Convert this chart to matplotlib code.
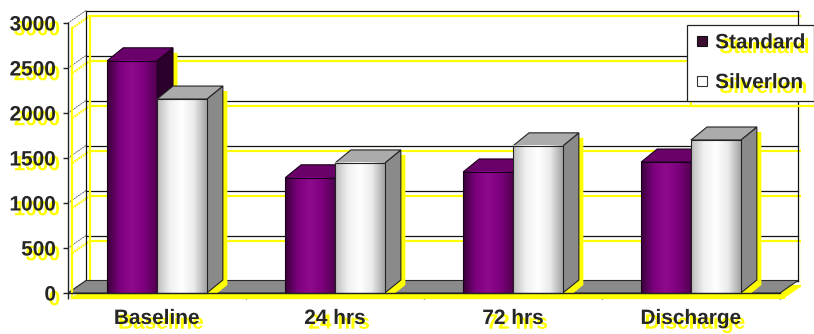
import numpy as np
import matplotlib
matplotlib.use('Agg')
import matplotlib.pyplot as plt
import matplotlib.patheffects as pe
from matplotlib.colors import LinearSegmentedColormap
from matplotlib.lines import Line2D
from matplotlib.patches import Polygon, Rectangle
from matplotlib.transforms import offset_copy

# data
categories = ['Baseline', '24 hrs', '72 hrs', 'Discharge']
series_names = ['Standard', 'Silverlon']
standard = [2580, 1280, 1345, 1455]
silverlon = [2155, 1445, 1635, 1700]
y_ticks = [0, 500, 1000, 1500, 2000, 2500, 3000]

plt.rcParams['font.family'] = ['Liberation Sans', 'DejaVu Sans']
TXT = '#262626'
YEL = '#ffff00'

W, H = 814, 334
fig = plt.figure(figsize=(W / 100, H / 100), dpi=100)

# layout: pixels per category and per value unit
px_x, px_y = 178.0, 0.09
xlim = (-0.5, 3.62)
ylim = (-150, 3200)
front_left, front_bottom = 68, 293  # pixel pos of the floor's front-left corner
ax = fig.add_axes([front_left / W,
                   (H - front_bottom + ylim[0] * px_y) / H,
                   (xlim[1] - xlim[0]) * px_x / W,
                   (ylim[1] - ylim[0]) * px_y / H])

# 3d depth offsets in data units
wdx, wdy = 18 / px_x, 12.5 / px_y
bdx, bdy = 16 / px_x, 13 / px_y
bar_w = 0.28

# misregistered yellow ghost on every dark line / text
text_fx = [pe.withSimplePatchShadow(offset=(3.0, -3.4), shadow_rgbFace=YEL, alpha=1)]
line_fx = [pe.SimpleLineShadow(offset=(3.2, -3.6), shadow_color=YEL, alpha=1, linewidth=1.6),
           pe.Normal()]
ghost_tr = offset_copy(ax.transData, fig=fig, x=4.5, y=-5, units='dots')

x_lo, x_hi = -0.5, len(categories) - 0.5
top = y_ticks[-1]

# back wall gridlines + left wall diagonals
for v in y_ticks:
    ax.plot([x_lo + wdx, x_hi + wdx], [v + wdy] * 2, color='#111111', lw=0.9,
            zorder=1, path_effects=line_fx)
    ax.plot([x_lo, x_lo + wdx], [v, v + wdy], color='#444444', lw=0.6,
            ls=(0, (2, 1)), zorder=1, path_effects=line_fx)
for xe in (x_lo + wdx, x_hi + wdx):
    ax.plot([xe, xe], [wdy, top + wdy], color='#111111', lw=0.9, zorder=1,
            path_effects=line_fx)

# floor
floor = [(x_lo, 0), (x_hi, 0), (x_hi + wdx, wdy), (x_lo + wdx, wdy)]
ax.add_patch(Polygon(floor, closed=True, transform=ghost_tr, fc=YEL, ec='none', zorder=1.9))
ax.add_patch(Polygon(floor, closed=True, fc='#8a8a8a', ec='#2a2a2a', lw=0.8, zorder=2))

std_cmap = LinearSegmentedColormap.from_list(
    'std', ['#3a003a', '#7c007e', '#8e0a8e', '#7e007e', '#520052'])
sil_cmap = LinearSegmentedColormap.from_list(
    'sil', ['#bdbdbd', '#f0f0f0', '#ffffff', '#eaeaea', '#a4a4a4'])
grad = np.linspace(0, 1, 64)[None, :]


def draw_bar(x0, v, cmap, side_c, top_c, edge, z):
    outline = [(x0, 0), (x0 + bar_w, 0), (x0 + bar_w + bdx, bdy),
               (x0 + bar_w + bdx, v + bdy), (x0 + bdx, v + bdy), (x0, v)]
    ax.add_patch(Polygon(outline, closed=True, transform=ghost_tr, fc=YEL, ec='none', zorder=3))
    ax.add_patch(Polygon([(x0 + bar_w, 0), (x0 + bar_w + bdx, bdy),
                          (x0 + bar_w + bdx, v + bdy), (x0 + bar_w, v)],
                         closed=True, fc=side_c, ec=edge, lw=0.8, zorder=z))
    ax.add_patch(Polygon([(x0, v), (x0 + bar_w, v), (x0 + bar_w + bdx, v + bdy),
                          (x0 + bdx, v + bdy)],
                         closed=True, fc=top_c, ec=edge, lw=0.8, zorder=z))
    ax.imshow(grad, cmap=cmap, extent=(x0, x0 + bar_w, 0, v), aspect='auto',
              interpolation='bilinear', zorder=z)
    ax.add_patch(Rectangle((x0, 0), bar_w, v, fc='none', ec=edge, lw=0.8, zorder=z))


for i, (s, g) in enumerate(zip(standard, silverlon)):
    draw_bar(i - bar_w, s, std_cmap, '#2c002c', '#6a006a', '#1a001a', 4 + i * 0.1)
    draw_bar(i, g, sil_cmap, '#8a8a8a', '#ababab', '#222222', 4.05 + i * 0.1)

# axes: left value axis and category axis along floor front
for name in ('top', 'right'):
    ax.spines[name].set_visible(False)
ax.spines['left'].set_position(('data', x_lo))
ax.spines['left'].set_bounds(0, top)
ax.spines['bottom'].set_position(('data', 0))
ax.spines['bottom'].set_bounds(x_lo, x_hi)
for name in ('left', 'bottom'):
    ax.spines[name].set_color('#222222')
    ax.spines[name].set_linewidth(1.0)
    ax.spines[name].set_path_effects(line_fx)
    ax.spines[name].set_zorder(5)

ax.set_yticks(y_ticks)
ax.set_yticklabels([str(v) for v in y_ticks])
ax.tick_params(axis='y', direction='out', length=3.6, width=1, color='#222222',
               pad=5, labelsize=15, labelcolor=TXT)
ax.set_xticks(range(len(categories)))
ax.set_xticklabels(categories)
ax.set_xticks(np.arange(len(categories) + 1) - 0.5, minor=True)
ax.tick_params(axis='x', which='major', length=0, pad=11.5, labelsize=15, labelcolor=TXT)
ax.tick_params(axis='x', which='minor', direction='out', length=4.5, width=1, color='#222222')
for lbl in ax.get_yticklabels() + ax.get_xticklabels():
    lbl.set_fontweight('bold')
    lbl.set_path_effects(text_fx)

ax.set_xlim(xlim)
ax.set_ylim(ylim)
ax.patch.set_visible(False)

# legend
handles = [Line2D([], [], marker='s', ls='none', ms=6.5, mfc='#3a0f30', mec='#111111', mew=0.8),
           Line2D([], [], marker='s', ls='none', ms=6.5, mfc='#ffffff', mec='#333333', mew=0.8)]
leg = fig.legend(handles, series_names, loc='upper left',
                 bbox_to_anchor=(687 / W, 1 - 25 / H), frameon=True, fancybox=False,
                 framealpha=1, edgecolor='#222222', prop={'weight': 'bold', 'size': 15},
                 handlelength=0.6, handletextpad=0.35, labelspacing=1.0,
                 borderpad=0.4, borderaxespad=0)
leg.get_frame().set_linewidth(0.9)
leg.get_frame().set_path_effects(line_fx)
for t in leg.get_texts():
    t.set_color(TXT)
    t.set_path_effects(text_fx)

fig.savefig('out.png', dpi=100, facecolor='white')
